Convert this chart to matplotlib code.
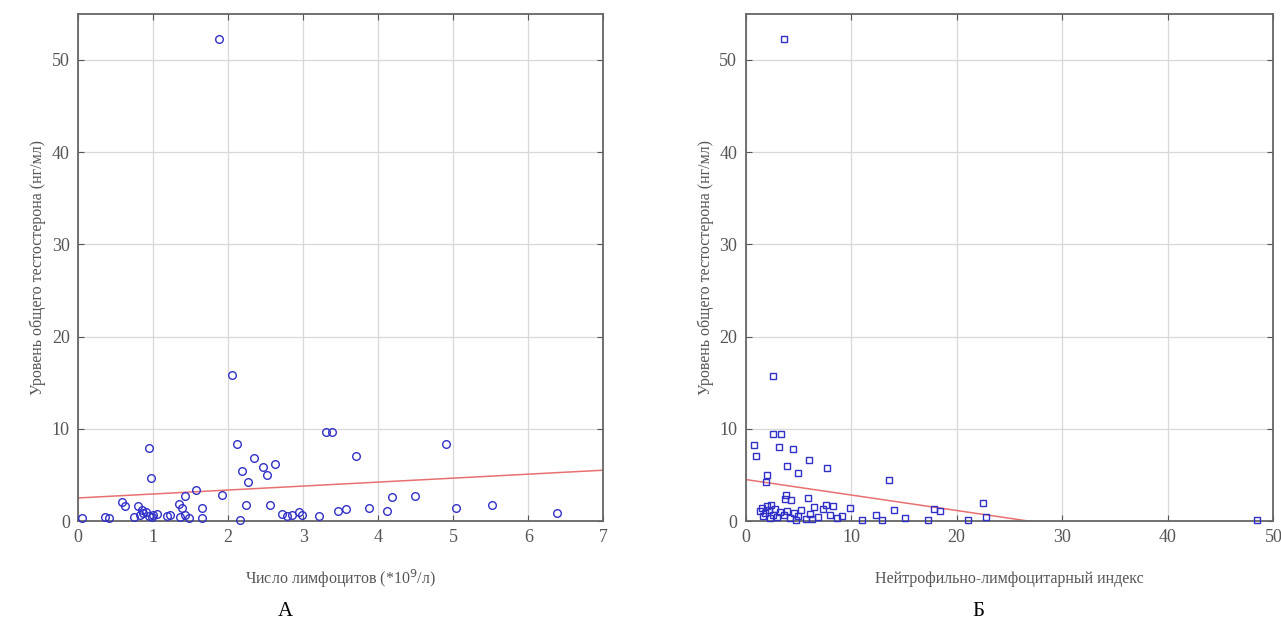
import matplotlib.pyplot as plt
import numpy as np

# panel A: lymphocyte count vs total testosterone
lymph_x = [1.88, 2.05, 0.95, 0.97, 2.12, 2.18, 2.26, 2.35, 2.47, 2.52, 2.62, 3.31, 3.38, 3.70, 4.90,
           0.58, 0.63, 0.80, 1.35, 1.43, 1.57, 1.65, 1.92, 2.24, 2.56, 2.72, 2.78, 2.85, 2.94, 2.98,
           3.21, 3.46, 3.57, 3.87, 4.12, 4.18, 4.49, 5.03, 5.52, 6.38, 0.05, 0.36, 0.41, 0.74, 0.83,
           0.87, 0.94, 0.98, 1.05, 1.18, 1.22, 1.36, 1.43, 1.48, 1.65, 2.16, 0.90, 1.00, 0.85, 1.38]
lymph_y = [52.3, 15.8, 7.9, 4.7, 8.3, 5.4, 4.2, 6.8, 5.9, 5.0, 6.2, 9.6, 9.6, 7.1, 8.4,
           2.1, 1.6, 1.6, 1.8, 2.7, 3.4, 1.4, 2.8, 1.7, 1.7, 0.8, 0.5, 0.6, 1.0, 0.7,
           0.5, 1.1, 1.3, 1.4, 1.1, 2.6, 2.7, 1.4, 1.7, 0.9, 0.3, 0.4, 0.3, 0.4, 0.6,
           0.9, 0.5, 0.4, 0.8, 0.5, 0.6, 0.4, 0.6, 0.3, 0.3, 0.1, 1.0, 0.6, 1.2, 1.4]
lymph_fit = (2.5, 0.43)  # intercept, slope

# panel B: neutrophil-lymphocyte index vs total testosterone
nli_x = [3.6, 2.6, 2.6, 3.4, 0.8, 1.0, 3.2, 4.5, 6.0, 3.9, 5.0, 7.7, 2.0, 1.9, 13.6, 3.8, 3.7, 4.3,
         5.9, 9.9, 11.0, 12.4, 12.9, 14.1, 15.1, 17.3, 17.9, 18.4, 21.1, 22.5, 22.8, 48.5,
         1.4, 1.6, 1.8, 2.0, 2.2, 2.4, 2.6, 2.8, 3.0, 3.3, 3.6, 3.9, 4.2, 4.6, 5.0, 5.3, 5.7,
         6.1, 6.5, 6.9, 7.3, 7.6, 8.0, 8.3, 8.7, 9.1, 2.3, 4.8, 6.3, 1.7]
nli_y = [52.3, 15.7, 9.4, 9.4, 8.2, 7.0, 8.0, 7.8, 6.6, 6.0, 5.2, 5.8, 5.0, 4.2, 4.5, 2.8, 2.4, 2.3,
         2.5, 1.4, 0.1, 0.6, 0.1, 1.2, 0.3, 0.1, 1.3, 1.1, 0.1, 2.0, 0.4, 0.1,
         1.1, 1.4, 0.9, 1.6, 1.2, 1.7, 0.7, 1.3, 0.4, 1.0, 0.6, 1.1, 0.3, 0.9, 0.5, 1.2, 0.2,
         0.8, 1.5, 0.4, 1.3, 1.7, 0.6, 1.6, 0.3, 0.5, 0.3, 0.1, 0.2, 0.5]
nli_fit = (4.5, -0.168)

ylabel = 'Уровень общего тестостерона (нг/мл)'

plt.rcParams['font.family'] = ['Liberation Serif', 'DejaVu Serif']

fig = plt.figure(figsize=(12.81, 6.30), dpi=100)
ax1 = fig.add_axes([0.061, 0.173, 0.410, 0.805])
ax2 = fig.add_axes([0.582, 0.173, 0.412, 0.805])

def style(ax, xmax, xticks):
    ax.set_xlim(0, xmax)
    ax.set_ylim(0, 55)
    ax.set_xticks(xticks)
    ax.set_yticks([0, 10, 20, 30, 40, 50])
    ax.grid(True, color='#d8d8d8', linewidth=0.9)
    ax.set_axisbelow(True)
    ax.tick_params(direction='in', top=True, right=True, length=4,
                   color='#555555', labelsize=13, labelcolor='#555555', pad=6)
    for s in ax.spines.values():
        s.set_color('#666666')
        s.set_linewidth(1.3)
    ax.set_ylabel(ylabel, fontsize=11.5, color='#555555')

style(ax1, 7, range(8))
xs = np.array([0, 7])
ax1.plot(xs, lymph_fit[0] + lymph_fit[1] * xs, color='#e87070', lw=1.1, zorder=2)
ax1.plot(lymph_x, lymph_y, 'o', mfc='none', mec='#3030c8', ms=5.5, mew=1.0, zorder=3, clip_on=False)
ax1.set_xlabel('Число лимфоцитов (*10$^9$/л)', fontsize=11.5, color='#555555', labelpad=15)

style(ax2, 50, range(0, 51, 10))
xs = np.array([0, 50])
ax2.plot(xs, nli_fit[0] + nli_fit[1] * xs, color='#e87070', lw=1.1, zorder=2)
ax2.plot(nli_x, nli_y, 's', mfc='none', mec='#3030c8', ms=5, mew=1.0, zorder=3, clip_on=False)
ax2.set_xlabel('Нейтрофильно-лимфоцитарный индекс', fontsize=11.5, color='#555555', labelpad=18)

fig.text(0.2225, 0.03, 'А', fontsize=15, ha='center', va='center')
fig.text(0.7635, 0.03, 'Б', fontsize=15, ha='center', va='center')

fig.savefig('out.png', dpi=100)
